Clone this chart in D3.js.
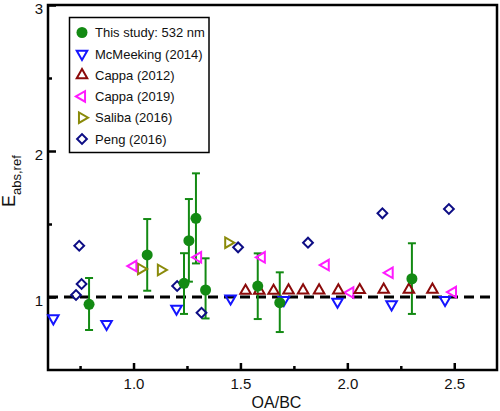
<!DOCTYPE html>
<html><head><meta charset="utf-8">
<script src="https://cdn.jsdelivr.net/npm/d3@7"></script>
<style>body{margin:0;background:#fff}svg{display:block;font-family:"Liberation Sans",Arial,sans-serif}</style>
</head><body><svg id="c" width="500" height="411"></svg>
<script>
// This study: 532 nm
const studyX = [0.792, 1.064, 1.236, 1.259, 1.292, 1.337, 1.581, 1.684, 2.302];
const studyY = [0.95, 1.288, 1.094, 1.386, 1.539, 1.048, 1.075, 0.961, 1.125];
const studyLo = [0.774, 1.043, 0.884, 1.105, 1.23, 0.853, 0.849, 0.76, 0.884];
const studyHi = [1.13, 1.534, 1.30, 1.671, 1.847, 1.265, 1.299, 1.169, 1.368];
// McMeeking (2014)
const mcmX = [0.625, 0.874, 1.201, 1.454, 1.703, 1.954, 2.207, 2.457];
const mcmY = [0.854, 0.815, 0.92, 0.99, 0.98, 0.968, 0.95, 0.98];
// Cappa (2012)
const cappa12X = [1.524, 1.588, 1.655, 1.725, 1.793, 1.868, 1.958, 2.058, 2.170, 2.288, 2.398];
const cappa12Y = [1.043, 1.043, 1.043, 1.045, 1.045, 1.045, 1.045, 1.048, 1.05, 1.05, 1.05];
// Cappa (2019)
const cappa19X = [0.999, 1.302, 1.60, 1.899, 2.014, 2.198, 2.494];
const cappa19Y = [1.212, 1.272, 1.272, 1.219, 1.03, 1.166, 1.034];
// Saliba (2016)
const salibaX = [1.035, 1.128, 1.443];
const salibaY = [1.192, 1.185, 1.372];
// Peng (2016)
const pengX = [0.731, 0.746, 0.757, 1.204, 1.318, 1.489, 1.816, 2.164, 2.475];
const pengY = [1.014, 1.351, 1.089, 1.075, 0.892, 1.34, 1.372, 1.573, 1.603];

const xTicks = [1.0, 1.5, 2.0, 2.5];
const xMinor = [0.75, 1.25, 1.75, 2.25];
const yTicks = [1, 2, 3];
const yMinor = [1.5, 2.5];
const legendLabels = ["This study: 532 nm", "McMeeking (2014)", "Cappa (2012)", "Cappa (2019)", "Saliba (2016)", "Peng (2016)"];

const svg = d3.select("#c");
const L = 48, R = 497, T = 5, B = 370;
const x = d3.scaleLinear().domain([0.6, 2.7]).range([L, R]);
const y = d3.scaleLinear().domain([0.5, 3]).range([B, T]);

const cols = {study:"#138a13", mcm:"#1515ff", c12:"#8b0a0a", c19:"#ff1aff", sal:"#8a8a0a", peng:"#0d0d85"};

// reference line
svg.append("line").attr("x1", x(0.6)).attr("x2", x(2.7)).attr("y1", y(1)).attr("y2", y(1))
  .attr("stroke", "#000").attr("stroke-width", 3).attr("stroke-dasharray", "10,6");

// axes
const gx = svg.append("g").attr("transform", `translate(0,${B})`);
gx.call(d3.axisBottom(x).tickValues(xTicks).tickFormat(d3.format(".1f")).tickSizeInner(-7).tickSizeOuter(0).tickPadding(8));
gx.append("g").call(d3.axisBottom(x).tickValues(xMinor).tickFormat("").tickSizeInner(-4).tickSizeOuter(0));
const gy = svg.append("g").attr("transform", `translate(${L},0)`);
gy.call(d3.axisLeft(y).tickValues(yTicks).tickFormat(d3.format("d")).tickSizeInner(-8).tickSizeOuter(0).tickPadding(5));
gy.selectAll(".tick text").attr("dy", "0.55em");
gy.append("g").call(d3.axisLeft(y).tickValues(yMinor).tickFormat("").tickSizeInner(-4).tickSizeOuter(0));
svg.selectAll(".domain").remove();
svg.selectAll(".tick line").attr("stroke", "#000").attr("stroke-width", 2.5);
svg.selectAll(".tick text").attr("font-size", 15).attr("fill", "#111").attr("font-family", "Liberation Sans, Arial");

// frame
svg.append("rect").attr("x", L).attr("y", T).attr("width", R - L).attr("height", B - T)
  .attr("fill", "none").attr("stroke", "#000").attr("stroke-width", 2.5);

// axis titles
svg.append("text").attr("x", (L + R) / 2 + 4).attr("y", 408).attr("text-anchor", "middle")
  .attr("font-size", 16).attr("fill", "#111").text("OA/BC");
const yl = svg.append("text").attr("transform", "translate(15,207) rotate(-90)").attr("fill", "#111");
yl.append("tspan").attr("font-size", 18).text("E");
yl.append("tspan").attr("font-size", 13).attr("dy", 6).text("abs,ref");

// symbol helpers
const tri = d3.symbol().type(d3.symbolTriangle).size(48)();
const dia = d3.symbol().type(d3.symbolSquare).size(48)();

function drawSeries(xs, ys, path, rot, color) {
  svg.append("g").selectAll("path").data(xs.map((v, i) => [v, ys[i]])).join("path")
    .attr("d", path)
    .attr("transform", d => `translate(${x(d[0])},${y(d[1])}) rotate(${rot})`)
    .attr("fill", "none").attr("stroke", color).attr("stroke-width", 2);
}

// study error bars and points
const sd = studyX.map((v, i) => ({x: v, y: studyY[i], lo: studyLo[i], hi: studyHi[i]}));
const eb = svg.append("g").attr("stroke", cols.study).attr("stroke-width", 2);
eb.selectAll(".v").data(sd).join("line").attr("x1", d => x(d.x)).attr("x2", d => x(d.x)).attr("y1", d => y(d.lo)).attr("y2", d => y(d.hi));
eb.selectAll(".t").data(sd).join("line").attr("x1", d => x(d.x) - 4).attr("x2", d => x(d.x) + 4).attr("y1", d => y(d.hi)).attr("y2", d => y(d.hi));
eb.selectAll(".b").data(sd).join("line").attr("x1", d => x(d.x) - 4).attr("x2", d => x(d.x) + 4).attr("y1", d => y(d.lo)).attr("y2", d => y(d.lo));

drawSeries(pengX, pengY, dia, 45, cols.peng);
drawSeries(salibaX, salibaY, tri, 90, cols.sal);
drawSeries(cappa19X, cappa19Y, tri, -90, cols.c19);
drawSeries(cappa12X, cappa12Y, tri, 0, cols.c12);
drawSeries(mcmX, mcmY, tri, 180, cols.mcm);

svg.append("g").selectAll("circle").data(sd).join("circle")
  .attr("cx", d => x(d.x)).attr("cy", d => y(d.y)).attr("r", 5.5).attr("fill", cols.study);

// legend
const lg = svg.append("g");
lg.append("rect").attr("x", 69.5).attr("y", 17.5).attr("width", 139.5).attr("height", 135)
  .attr("fill", "#fff").attr("stroke", "#000").attr("stroke-width", 1.5);
const legSpec = [
  {t: "c", c: cols.study}, {t: 180, c: cols.mcm}, {t: 0, c: cols.c12},
  {t: -90, c: cols.c19}, {t: 90, c: cols.sal}, {t: "d", c: cols.peng}];
legSpec.forEach((s, i) => {
  const cy = 32.5 + i * 21.3, cx = 82;
  if (s.t === "c") lg.append("circle").attr("cx", cx).attr("cy", cy).attr("r", 5.5).attr("fill", s.c);
  else if (s.t === "d") lg.append("path").attr("d", dia).attr("transform", `translate(${cx},${cy}) rotate(45)`)
    .attr("fill", "none").attr("stroke", s.c).attr("stroke-width", 2);
  else lg.append("path").attr("d", tri).attr("transform", `translate(${cx},${cy}) rotate(${s.t})`)
    .attr("fill", "none").attr("stroke", s.c).attr("stroke-width", 2);
  lg.append("text").attr("x", 95).attr("y", cy + 4.7).attr("font-size", 13).attr("fill", "#111").text(legendLabels[i]);
});
</script></body></html>
